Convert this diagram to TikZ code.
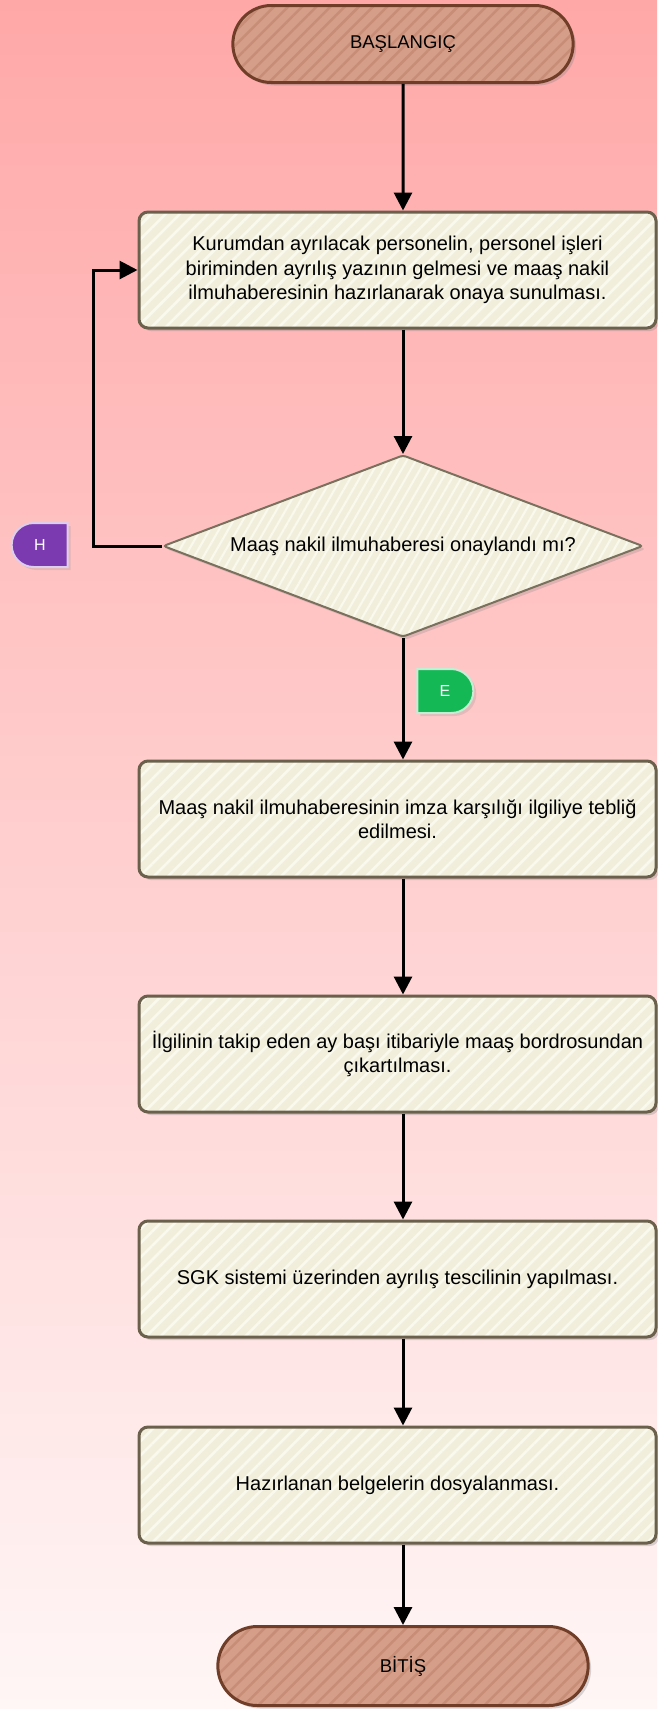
\documentclass[tikz,border=0pt]{standalone}
\usepackage{fontspec}
\setmainfont{Liberation Sans}
\usetikzlibrary{arrows.meta, positioning, shapes.geometric, shapes.misc, shadows, patterns.meta}
\definecolor{bgtop}{RGB}{255,168,168}
\definecolor{bgbot}{RGB}{255,246,246}
\definecolor{boxfill}{RGB}{241,239,220}
\definecolor{boxstripe}{RGB}{250,249,238}
\definecolor{boxline}{RGB}{107,96,76}
\definecolor{termfill}{RGB}{212,158,136}
\definecolor{termstripe}{RGB}{199,141,119}
\definecolor{termline}{RGB}{112,62,40}
\definecolor{hfill}{RGB}{123,58,175}
\definecolor{efill}{RGB}{20,185,85}

\begin{document}
\begin{tikzpicture}[
        x=1pt, y=1pt,
        font=\fontsize{20}{24.5}\selectfont,
        process node/.style={rectangle, rounded corners=9pt, draw=boxline, line width=3pt,
          drop shadow={opacity=0.3, shadow xshift=3pt, shadow yshift=-3pt},
          preaction={fill=boxfill}, pattern={Lines[angle=45, distance=10pt, line width=2.5pt]},
          pattern color=boxstripe, minimum width=517pt, minimum height=116pt,
          align=center, inner sep=2pt},
        term node/.style={rounded rectangle, draw=termline, line width=3pt,
          drop shadow={opacity=0.3, shadow xshift=3pt, shadow yshift=-3pt},
          preaction={fill=termfill}, pattern={Lines[angle=45, distance=10pt, line width=2.5pt]},
          pattern color=termstripe, font=\fontsize{18.5}{22}\selectfont},
        decision node/.style={diamond, aspect=2.64, draw=boxline!90!white, line width=2pt,
          rounded corners=3pt,
          drop shadow={opacity=0.25, shadow xshift=3pt, shadow yshift=-3pt},
          preaction={fill=boxfill}, pattern={Lines[angle=60, distance=8pt, line width=2pt]},
          pattern color=boxstripe, minimum width=480pt, minimum height=182pt, inner sep=0pt},
        link node/.style={rounded rectangle, draw=white!75!#1, fill=#1, line width=2pt,
          text=white, minimum width=56pt, minimum height=44pt, inner sep=0pt,
          drop shadow={opacity=0.2, shadow xshift=3pt, shadow yshift=-3pt},
          font=\fontsize{16}{18}\selectfont},
        flow/.style={draw, line width=3pt, -{Triangle[length=18pt, width=18pt]}}
      ]
      % Background
      \useasboundingbox (0,0) rectangle (657,-1709);
      \fill[top color=bgtop, bottom color=bgbot] (0,0) rectangle (657,-1709);

      % Nodes
      \node[term node, minimum width=347pt, minimum height=77pt] (start) at (403,-44) {BAŞLANGIÇ};
      \node[process node] (box1) at (397.5,-270)
        {Kurumdan ayrılacak personelin, personel işleri\\biriminden ayrılış yazının gelmesi ve maaş nakil\\ilmuhaberesinin hazırlanarak onaya sunulması.};
      \node[decision node] (dec) at (403,-546) {Maaş nakil ilmuhaberesi onaylandı mı?};
      \node[process node] (box2) at (397.5,-819)
        {Maaş nakil ilmuhaberesinin imza karşılığı ilgiliye tebliğ\\edilmesi.};
      \node[process node] (box3) at (397.5,-1054)
        {İlgilinin takip eden ay başı itibariyle maaş bordrosundan\\çıkartılması.};
      \node[process node] (box4) at (397.5,-1279) {SGK sistemi üzerinden ayrılış tescilinin yapılması.};
      \node[process node] (box5) at (397.5,-1485) {Hazırlanan belgelerin dosyalanması.};
      \node[term node, minimum width=377pt, minimum height=79pt] (stop) at (403,-1666) {BİTİŞ};

      % Yes / no marks
      \node[link node=hfill, rounded rectangle east arc=none] (no) at (40,-545) {H};
      \node[link node=efill, rounded rectangle west arc=none] (yes) at (445,-691) {E};
      \coordinate (loop) at (93,-546);

      % Edges
      \draw[flow] (start) -- (start |- box1.north);
      \draw[flow] (start |- box1.south) -- (dec.north);
      \draw[flow] (dec.west) -- (loop) |- (box1.west);
      \draw[flow] (dec.south) -- (dec.south |- box2.north);
      \draw[flow] (dec.south |- box2.south) -- (dec.south |- box3.north);
      \draw[flow] (dec.south |- box3.south) -- (dec.south |- box4.north);
      \draw[flow] (dec.south |- box4.south) -- (dec.south |- box5.north);
      \draw[flow] (dec.south |- box5.south) -- (stop.north);
    \end{tikzpicture}
\end{document}
